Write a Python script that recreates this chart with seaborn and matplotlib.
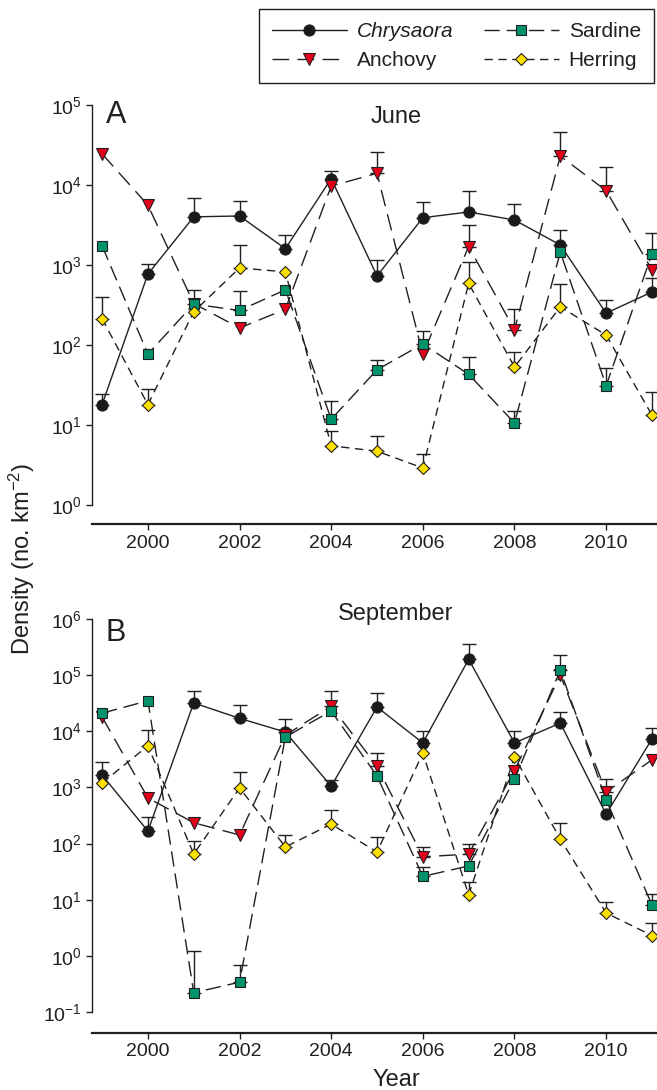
import matplotlib.pyplot as plt
import numpy as np
import pandas as pd
import seaborn as sns
from matplotlib.ticker import FixedLocator, LogLocator, NullLocator

# --- data ---
years = list(range(1999, 2012))
species = ["Chrysaora", "Anchovy", "Sardine", "Herring"]

# A: June, mean density and top of the error bar (nan = no bar visible)
june_chrysaora = [18, 770, 4000, 4100, 1600, 12000, 730, 3900, 4600, 3650, 1780, 250, 460]
june_anchovy = [24500, 5600, 330, 163, 280, 9700, 14000, 77, 1700, 155, 23000, 8500, 870]
june_sardine = [1740, 77, 325, 270, 490, 11.8, 49, 103, 43, 10.6, 1450, 31, 1380]
june_herring = [213, 18, 260, 920, 820, 5.5, 4.7, 2.9, 590, 53, 300, 133, 13.3]

june_chrysaora_err = [24.5, 1020, 6900, 6300, 2400, 15000, 1150, 6100, 8400, 5800, 2700, 365, 690]
june_anchovy_err = [np.nan] * 6 + [26000, np.nan, 3200, 280, 46000, 17000, np.nan]
june_sardine_err = [np.nan, np.nan, 490, 470, np.nan, 20, 65, 150, 71, 15, np.nan, 52, 2500]
june_herring_err = [400, 28, np.nan, 1780, np.nan, 8.5, 7.3, 4.3, 1100, 82, 580, np.nan, 26]

# B: September
sept_chrysaora = [1660, 167, 32000, 17000, 9700, 1050, 27000, 6200, 192000, 6200, 14000, 335, 7300]
sept_anchovy = [18000, 650, 235, 142, 8500, 28000, 2400, 58, 65, 2000, 100000, 830, 3100]
sept_sardine = [21000, 35000, 0.22, 0.34, 7900, 23000, 1600, 26, 40, 1400, 123000, 600, 8.1]
sept_herring = [1200, 5500, 65, 980, 87, 222, 71, 4100, 12.2, 3500, 120, 5.8, 2.3]

sept_chrysaora_err = [2800, 296, 52000, 29000, 16500, 1350, 48000, 10000, 355000, 10000, 22000, np.nan, 11500]
sept_anchovy_err = [np.nan] * 5 + [52000, 4100, 87, 100, np.nan, np.nan, 1400, np.nan]
sept_sardine_err = [np.nan, np.nan, 1.23, 0.69, np.nan, np.nan, np.nan, 38, np.nan, np.nan, 230000, np.nan, 12.7]
sept_herring_err = [np.nan, 10500, 112, 1870, 142, 400, 130, np.nan, 21, np.nan, 233, 9.1, 3.9]

# --- styling ---
sns.set_style("ticks")
plt.rcParams["font.family"] = ["Liberation Sans", "DejaVu Sans"]
plt.rcParams["mathtext.default"] = "regular"
ink = "#231f20"
plt.rcParams["text.color"] = ink
plt.rcParams["axes.labelcolor"] = ink

styles = {
    "Chrysaora": dict(marker="o", ms=8, mfc="#1a1a1a", ls="-"),
    "Anchovy": dict(marker="v", ms=9, mfc="#e3001b", ls=(0, (12, 6))),
    "Sardine": dict(marker="s", ms=7.3, mfc="#00936b", ls=(0, (11, 5))),
    "Herring": dict(marker="D", ms=6.6, mfc="#ffe100", ls=(0, (6, 4))),
}

fig = plt.figure(figsize=(6.57, 10.9), dpi=100)
H = 1090
axA = fig.add_axes([92 / 657, 1 - 505 / H, 565 / 657, 400 / H])
axB = fig.add_axes([92 / 657, 1 - 1012 / H, 565 / 657, 393 / H])

panels = [
    (axA, [june_chrysaora, june_anchovy, june_sardine, june_herring],
     [june_chrysaora_err, june_anchovy_err, june_sardine_err, june_herring_err],
     (1, 1e5), "A", "June", 14),
    (axB, [sept_chrysaora, sept_anchovy, sept_sardine, sept_herring],
     [sept_chrysaora_err, sept_anchovy_err, sept_sardine_err, sept_herring_err],
     (0.1, 1e6), "B", "September", 15),
]

handles = []
for ax, values, errs, ylim, letter, month, offset in panels:
    for i, (name, vals, err) in enumerate(zip(species, values, errs)):
        df = pd.DataFrame({"year": years, "density": vals, "top": err})
        st = styles[name]
        # upper error bars only
        eb = df.dropna()
        ax.errorbar(eb["year"], eb["density"],
                    yerr=[np.zeros(len(eb)), eb["top"] - eb["density"]],
                    fmt="none", ecolor=ink, elinewidth=1.0, capsize=5,
                    capthick=1.0, zorder=1.5)
        sns.lineplot(data=df, x="year", y="density", ax=ax, color=ink,
                     linewidth=1.0, linestyle=st["ls"], marker=st["marker"],
                     markersize=st["ms"], markerfacecolor=st["mfc"],
                     markeredgecolor=ink, markeredgewidth=0.8,
                     zorder=2 + i, label=name, legend=False)
        if ax is axA:
            handles.append(ax.lines[-1])

    ax.set_yscale("log")
    ax.set_ylim(*ylim)
    ax.set_xlim(1998.78, 2011.11)
    ax.yaxis.set_major_locator(LogLocator(base=10, numticks=12))
    ax.yaxis.set_minor_locator(NullLocator())
    ax.xaxis.set_major_locator(FixedLocator([2000, 2002, 2004, 2006, 2008, 2010]))
    ax.set_xlabel("")
    ax.set_ylabel("")
    sns.despine(ax=ax)
    ax.spines["bottom"].set_position(("outward", offset))
    ax.spines["left"].set_linewidth(1.0)
    ax.spines["bottom"].set_linewidth(1.6)
    ax.spines["left"].set_color(ink)
    ax.spines["bottom"].set_color(ink)
    ax.tick_params(labelsize=14, length=4.5, width=1.0, color=ink,
                   labelcolor=ink, pad=3)
    ax.text(0.024, 1.012 if letter == "A" else 1.003, letter,
            transform=ax.transAxes, fontsize=22, va="top", ha="left")
    ax.text(0.538, 0.955 if letter == "A" else 0.9975, month,
            transform=ax.transAxes, fontsize=17, va="baseline", ha="center")

fig.text(396 / 657, 1 - 1086 / H, "Year", fontsize=17, ha="center", va="baseline")
fig.text(22 / 657, 1 - 559 / H, "Density (no. km$^{-2}$)", fontsize=17,
         rotation=90, ha="center", va="center")

leg = fig.legend(handles, species, ncol=2, loc="upper left",
                 bbox_to_anchor=(259 / 657, 1 - 9 / H), fontsize=15,
                 frameon=True, fancybox=False, edgecolor=ink, framealpha=1,
                 handlelength=3.6, labelspacing=0.5, columnspacing=1.45,
                 handletextpad=0.48, borderpad=0.62, borderaxespad=0)
leg.get_frame().set_linewidth(1.0)
leg.get_texts()[0].set_fontstyle("italic")

fig.savefig("out.png", dpi=100)
